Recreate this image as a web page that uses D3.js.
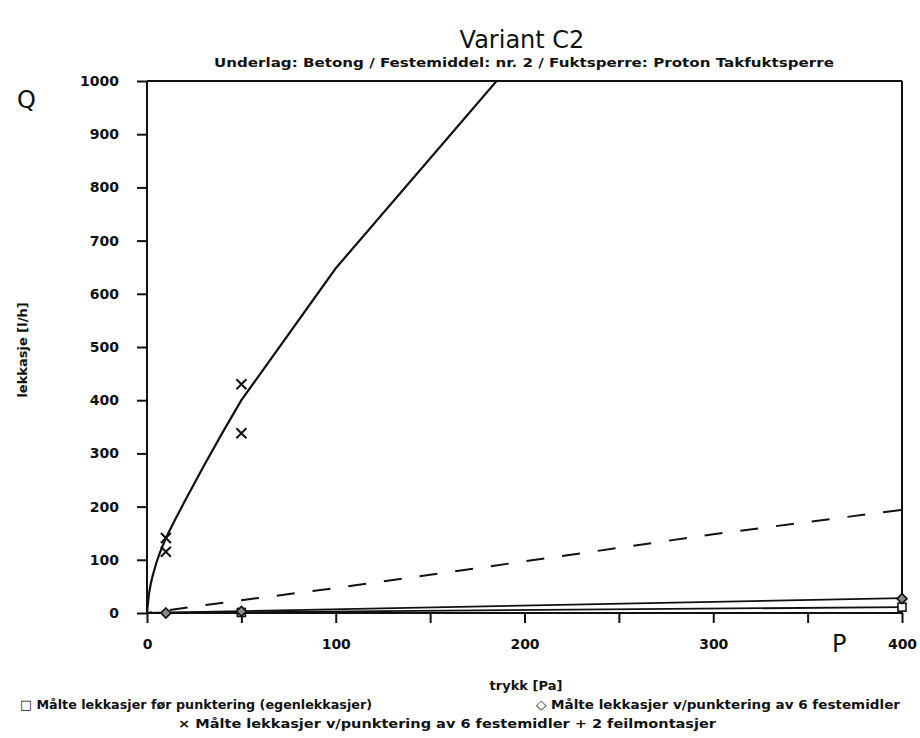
<!DOCTYPE html>
<html>
<head>
<meta charset="utf-8">
<script src="https://cdn.jsdelivr.net/npm/d3@7"></script>
<style>
  html, body { margin: 0; padding: 0; background: #ffffff; }
  svg { display: block; }
  text { font-family: "DejaVu Sans", "Liberation Sans", sans-serif; fill: #111; }
</style>
</head>
<body>
<svg id="chart" width="920" height="738"></svg>
<script>
// Leakage measurements, Variant C2 (pressure P in Pa, leakage Q in l/h)
const xTicks = [0, 50, 100, 150, 200, 250, 300, 350, 400];
const xTickLabels = ["0", "", "100", "", "200", "", "300", "", "400"];
const yTicks = [0, 100, 200, 300, 400, 500, 600, 700, 800, 900, 1000];

// Measured points
const squareP = [50, 400];
const squareQ = [1, 11];
const diamondP = [10, 50, 400];
const diamondQ = [0, 3, 27];
const crossP = [10, 10, 50, 50];
const crossQ = [141, 115, 430, 338];

// Fitted curves
const fitCrossP = [0, 1, 2, 3, 5, 7, 10, 15, 20, 30, 40, 50, 100, 200];
const fitCrossQ = [0, 35, 55, 70, 95, 115, 141, 176, 210, 276, 339, 400, 648, 1061];
const fitDashP = [0, 50, 100, 200, 300, 400];
const fitDashQ = [0, 24, 47, 97, 148, 194];
const fitDiamondP = [0, 400];
const fitDiamondQ = [0, 28];
const fitSquareP = [0, 400];
const fitSquareQ = [0, 11];

const svg = d3.select("#chart");
const x = d3.scaleLinear().domain([0, 400]).range([147, 902]);
const y = d3.scaleLinear().domain([0, 1000]).range([613, 81]);

// Titles
svg.append("text").attr("x", 522).attr("y", 48).attr("text-anchor", "middle")
  .attr("font-size", 24).text("Variant C2");
svg.append("text").attr("x", 524).attr("y", 67).attr("text-anchor", "middle")
  .attr("font-size", 13).attr("font-weight", "bold")
  .attr("textLength", 620).attr("lengthAdjust", "spacingAndGlyphs")
  .text("Underlag: Betong / Festemiddel: nr. 2 / Fuktsperre: Proton Takfuktsperre");

// Clip region for curves
svg.append("clipPath").attr("id", "plot-clip").append("rect")
  .attr("x", x(0)).attr("y", y(1000)).attr("width", x(400) - x(0)).attr("height", y(0) - y(1000));

// Axes
const xAxis = d3.axisBottom(x).tickValues(xTicks)
  .tickFormat((d, i) => xTickLabels[i]).tickSize(10).tickPadding(16);
const gx = svg.append("g").attr("transform", `translate(0,${y(0)})`).call(xAxis);
gx.selectAll("text").attr("font-size", 14).attr("font-weight", "bold");

const yAxis = d3.axisLeft(y).tickValues(yTicks).tickFormat(d3.format("d"))
  .tickSize(10).tickPadding(18);
const gy = svg.append("g").attr("transform", `translate(${x(0)},0)`).call(yAxis);
gy.selectAll("text").attr("font-size", 14).attr("font-weight", "bold");

[gx, gy].forEach(g => {
  g.select(".domain").remove();
  g.selectAll("line").attr("stroke", "#111").attr("stroke-width", 2);
});

// Frame
const frame = svg.append("g").attr("stroke", "#111").attr("stroke-width", 2).attr("fill", "none");
frame.append("line").attr("x1", x(0)).attr("x2", x(0)).attr("y1", y(1000)).attr("y2", y(0));
frame.append("line").attr("x1", x(0)).attr("x2", x(400)).attr("y1", y(0)).attr("y2", y(0));
frame.append("line").attr("x1", x(0)).attr("x2", x(400)).attr("y1", y(1000)).attr("y2", y(1000));
frame.append("line").attr("x1", x(400)).attr("x2", x(400)).attr("y1", y(1000)).attr("y2", y(0));

// Curves
const line = d3.line().x(d => x(d[0])).y(d => y(d[1]));
const plot = svg.append("g").attr("clip-path", "url(#plot-clip)");
const zip = (a, b) => a.map((v, i) => [v, b[i]]);

plot.append("path").datum(zip(fitCrossP, fitCrossQ)).attr("d", line)
  .attr("fill", "none").attr("stroke", "#111").attr("stroke-width", 2.2);
plot.append("path").datum(zip(fitDashP, fitDashQ)).attr("d", line)
  .attr("fill", "none").attr("stroke", "#111").attr("stroke-width", 2)
  .attr("stroke-dasharray", "18,18").attr("stroke-dashoffset", 13);
plot.append("path").datum(zip(fitDiamondP, fitDiamondQ)).attr("d", line)
  .attr("fill", "none").attr("stroke", "#111").attr("stroke-width", 1.8);
plot.append("path").datum(zip(fitSquareP, fitSquareQ)).attr("d", line)
  .attr("fill", "none").attr("stroke", "#111").attr("stroke-width", 1.8);

// Markers
const marks = svg.append("g").attr("stroke", "#111").attr("stroke-width", 1.6);
marks.selectAll(".sq").data(zip(squareP, squareQ)).join("rect").attr("class", "sq")
  .attr("x", d => x(d[0]) - 4).attr("y", d => y(d[1]) - 4)
  .attr("width", 8).attr("height", 8).attr("fill", "#fff");
marks.selectAll(".dm").data(zip(diamondP, diamondQ)).join("path").attr("class", "dm")
  .attr("d", d => `M${x(d[0])},${y(d[1]) - 5}L${x(d[0]) + 5},${y(d[1])}L${x(d[0])},${y(d[1]) + 5}L${x(d[0]) - 5},${y(d[1])}Z`)
  .attr("fill", "#888");
marks.selectAll(".cr").data(zip(crossP, crossQ)).join("path").attr("class", "cr")
  .attr("d", d => `M${x(d[0]) - 5},${y(d[1]) - 5}L${x(d[0]) + 5},${y(d[1]) + 5}M${x(d[0]) - 5},${y(d[1]) + 5}L${x(d[0]) + 5},${y(d[1]) - 5}`)
  .attr("stroke-width", 2).attr("fill", "none");

// Axis symbols and titles
svg.append("text").attr("x", 17).attr("y", 108).attr("font-size", 24).text("Q");
svg.append("text").attr("x", 832).attr("y", 652).attr("font-size", 24).text("P");
svg.append("text").attr("transform", "translate(27,350) rotate(-90)")
  .attr("text-anchor", "middle").attr("font-size", 13).attr("font-weight", "bold")
  .text("lekkasje [l/h]");
svg.append("text").attr("x", 526).attr("y", 690).attr("text-anchor", "middle")
  .attr("font-size", 13).attr("font-weight", "bold").text("trykk [Pa]");

// Legend
svg.append("text").attr("x", 20).attr("y", 709).attr("font-size", 13).attr("font-weight", "bold")
  .attr("textLength", 352).attr("lengthAdjust", "spacingAndGlyphs")
  .text("□ Målte lekkasjer før punktering (egenlekkasjer)");
svg.append("text").attr("x", 536).attr("y", 709).attr("font-size", 13).attr("font-weight", "bold")
  .attr("textLength", 364).attr("lengthAdjust", "spacingAndGlyphs")
  .text("◇ Målte lekkasjer v/punktering av 6 festemidler");
svg.append("text").attr("x", 178).attr("y", 728).attr("font-size", 13).attr("font-weight", "bold")
  .attr("textLength", 538).attr("lengthAdjust", "spacingAndGlyphs")
  .text("× Målte lekkasjer v/punktering av 6 festemidler + 2 feilmontasjer");
</script>
</body>
</html>
